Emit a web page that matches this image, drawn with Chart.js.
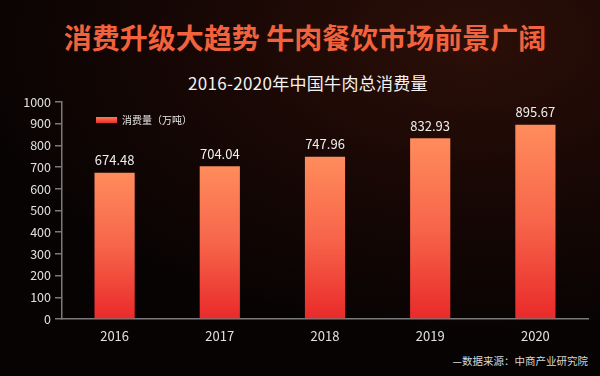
<!DOCTYPE html>
<html>
<head>
<meta charset="utf-8">
<script src="https://cdn.jsdelivr.net/npm/chart.js@4"></script>
<style>
  html, body { margin: 0; padding: 0; }
  body {
    width: 600px; height: 376px; overflow: hidden; position: relative;
    font-family: "Noto Sans CJK SC", sans-serif;
    background: radial-gradient(ellipse 520px 300px at 470px 40px, #2c0f08 0%, #1a0805 45%, #070303 100%);
  }
  .title {
    position: absolute; left: 0; top: 17px; width: 610px; text-align: center;
    color: #f2623c; font-size: 28px; font-weight: bold; line-height: 40px;
  }
  .subtitle {
    position: absolute; left: 0; top: 72px; width: 616px; text-align: center;
    color: #f2f2f2; font-size: 17px; line-height: 22px; letter-spacing: 0.3px;
  }
  .source {
    position: absolute; right: 12px; top: 353px;
    color: #d8d8d8; font-size: 10.5px; line-height: 16px;
  }
  canvas { position: absolute; left: 0; top: 0; }
</style>
</head>
<body>
<div class="title">消费升级大趋势 牛肉餐饮市场前景广阔</div>
<div class="subtitle">2016-2020年中国牛肉总消费量</div>
<div class="source">—数据来源：中商产业研究院</div>
<canvas id="chart" width="600" height="376"></canvas>
<script>
// data
const years = ['2016', '2017', '2018', '2019', '2020'];
const consumption = [674.48, 704.04, 747.96, 832.93, 895.67];
const seriesName = '消费量（万吨）';
const yTicks = { min: 0, max: 1000, step: 100 };

const FONT = '"Noto Sans CJK SC", sans-serif';

// gradient per bar, orange at the top, red at the base
function barFill(c) {
    const chart = c.chart;
    const ys = chart.scales.y;
    if (!chart.chartArea || !ys || c.raw == null) return '#f5533a';
    const top = ys.getPixelForValue(c.raw);
    const bottom = ys.getPixelForValue(0);
    const g = chart.ctx.createLinearGradient(0, top, 0, bottom);
    g.addColorStop(0, '#ff8c5c');
    g.addColorStop(0.5, '#f7654a');
    g.addColorStop(1, '#e92a2a');
    return g;
}

const valueLabels = {
    id: 'valueLabels',
    afterDatasetsDraw(chart) {
        const ctx = chart.ctx;
        const meta = chart.getDatasetMeta(0);
        ctx.save();
        ctx.fillStyle = '#eeeeee';
        ctx.font = '13px ' + FONT;
        ctx.textAlign = 'center';
        ctx.textBaseline = 'bottom';
        meta.data.forEach((bar, i) => {
            ctx.fillText(consumption[i].toFixed(2), bar.x, bar.y - 6);
        });
        ctx.restore();
    }
};

const insideLegend = {
    id: 'insideLegend',
    afterDraw(chart) {
        const ctx = chart.ctx;
        const x = chart.chartArea.left + 34;
        const y = 117;
        ctx.save();
        const g = ctx.createLinearGradient(0, y, 0, y + 6);
        g.addColorStop(0, '#ff7a52');
        g.addColorStop(1, '#e9302c');
        ctx.fillStyle = g;
        ctx.fillRect(x, y, 21, 6);
        ctx.fillStyle = '#e6e6e6';
        ctx.font = '10px ' + FONT;
        ctx.textBaseline = 'middle';
        ctx.fillText(chart.data.datasets[0].label, x + 26, y + 3);
        ctx.restore();
    }
};

new Chart(document.getElementById('chart'), {
    type: 'bar',
    data: {
        labels: years,
        datasets: [{
            label: seriesName,
            data: consumption,
            backgroundColor: barFill,
            barPercentage: 0.382,
            categoryPercentage: 1
        }]
    },
    options: {
        responsive: false,
        animation: false,
        layout: { padding: { top: 102, right: 12, left: 0, bottom: 0 } },
        plugins: {
            legend: { display: false },
            tooltip: { enabled: false }
        },
        scales: {
            x: {
                grid: { drawOnChartArea: false, drawTicks: false },
                border: { color: '#7a7a7a', width: 1.5 },
                ticks: { color: '#e0e0e0', font: { family: FONT, size: 13 }, padding: 9 },
                afterFit: s => { s.height = 57; }
            },
            y: {
                min: yTicks.min,
                max: yTicks.max,
                ticks: {
                    stepSize: yTicks.step,
                    color: '#e0e0e0',
                    font: { family: FONT, size: 12.5 },
                    padding: 4,
                    callback: v => String(v)
                },
                grid: { drawOnChartArea: false, drawTicks: true, tickLength: 7, color: '#7a7a7a', lineWidth: 1.5 },
                border: { color: '#7a7a7a', width: 1.5 },
                afterFit: s => { s.width = 62; }
            }
        }
    },
    plugins: [valueLabels, insideLegend]
});
</script>
</body>
</html>
